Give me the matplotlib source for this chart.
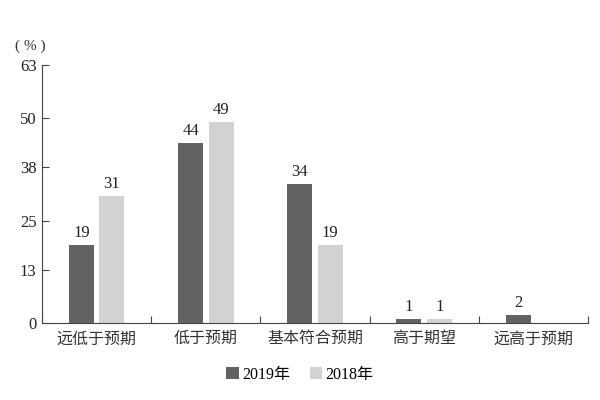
import numpy as np
import matplotlib
matplotlib.use("Agg")
import matplotlib.pyplot as plt

plt.rcParams['font.family'] = ['Liberation Serif', 'Noto Sans CJK SC', 'DejaVu Sans']

# Datos
categories = ["远低于预期", "低于预期", "基本符合预期", "高于期望", "远高于预期"]
vals_2019 = [19, 44, 34, 1, 2]
vals_2018 = [31, 49, 19, 1, None]
yticks = [0, 13, 25, 38, 50, 63]

c2019 = "#626262"
c2018 = "#d2d2d4"
axis_col = "#444444"

fig = plt.figure(figsize=(6, 4), dpi=100)
ax = fig.add_axes([0.07, 0.1925, 0.91, 0.645])

x = np.arange(len(categories))
w = 0.23
off = 0.14

for i, (a, b) in enumerate(zip(vals_2019, vals_2018)):
    if a is not None:
        ax.bar(x[i] - off, a, w, color=c2019, label="2019年" if i == 0 else None)
        ax.text(x[i] - off, a + 1, str(a), ha="center", va="bottom", fontsize=12, color="#222222")
    if b is not None:
        ax.bar(x[i] + off, b, w, color=c2018, label="2018年" if i == 0 else None)
        ax.text(x[i] + off, b + 1, str(b), ha="center", va="bottom", fontsize=12, color="#222222")

ax.set_xlim(-0.5, len(categories) - 0.5)
ax.set_ylim(0, 63)
ax.set_yticks(yticks)
ax.set_yticklabels([str(t) for t in yticks], fontsize=12, color="#222222")

# ticks del eje x entre categorías
ax.set_xticks(np.arange(-0.5, len(categories), 1.0))
ax.set_xticklabels([])
ax.set_xticks(x, minor=True)
ax.set_xticklabels(categories, minor=True, fontsize=11.5, color="#333333")
ax.tick_params(axis="x", which="minor", length=0, pad=6)
ax.tick_params(axis="x", which="major", direction="in", length=5, color=axis_col)
ax.tick_params(axis="y", direction="in", length=5, color=axis_col, pad=4)

ax.spines["top"].set_visible(False)
ax.spines["right"].set_visible(False)
ax.spines["left"].set_color(axis_col)
ax.spines["bottom"].set_color(axis_col)

fig.text(0.025, 0.885, "( % )", fontsize=11, color="#333333", ha="left", va="center")

fig.legend(loc="center", bbox_to_anchor=(0.5, 0.063), ncol=2, frameon=False,
           fontsize=11.5, handlelength=0.8, handleheight=0.8, handletextpad=0.2,
           columnspacing=1.2)

fig.savefig("out.png", dpi=100)
